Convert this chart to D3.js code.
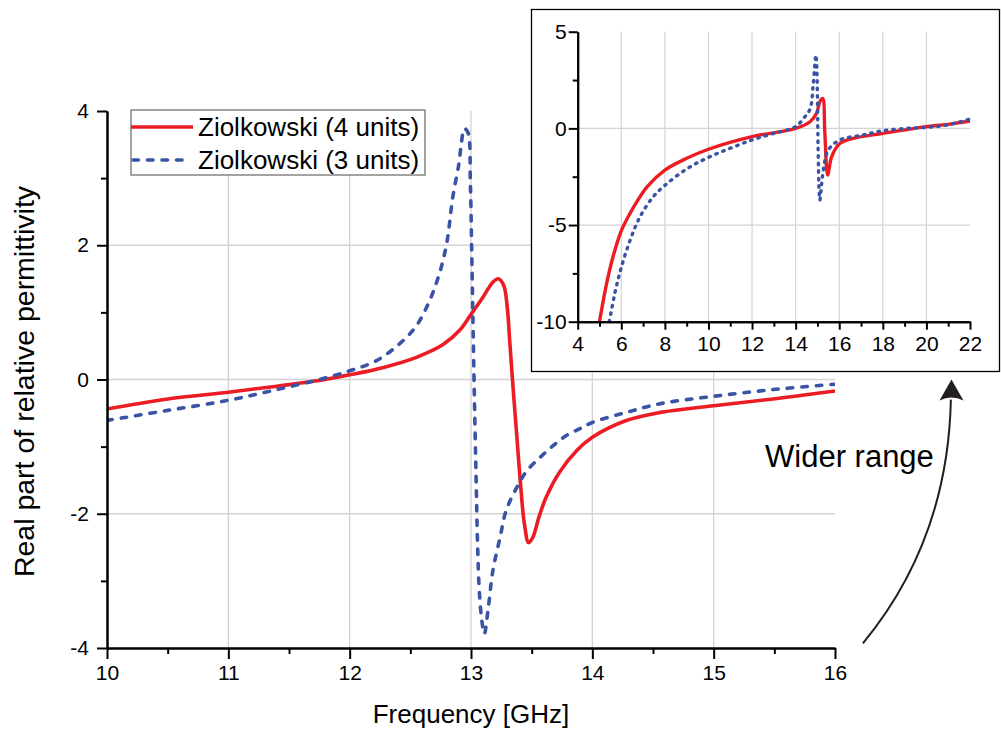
<!DOCTYPE html>
<html>
<head>
<meta charset="utf-8">
<script src="https://cdn.jsdelivr.net/npm/d3@7"></script>
<style>
  html, body { margin: 0; padding: 0; background: #fff; }
  svg { display: block; font-family: "Liberation Sans", Arial, sans-serif; }
</style>
</head>
<body>
<svg id="chart" width="1001" height="733"></svg>
<script>
// ---------------- data ----------------
const seriesNames = ["Ziolkowski (4 units)", "Ziolkowski (3 units)"];

// main plot (10–16 GHz)
const mainRedX = [10.0, 10.5, 11.0, 11.4, 11.73, 12.0, 12.28, 12.55, 12.77, 12.91, 13.0, 13.1, 13.18, 13.225, 13.27, 13.3, 13.32, 13.35, 13.38, 13.41, 13.44, 13.475, 13.51, 13.56, 13.62, 13.73, 13.87, 14.0, 14.28, 14.56, 15.0, 15.49, 16.0];
const mainRedY = [-0.44, -0.29, -0.19, -0.10, -0.02, 0.07, 0.18, 0.33, 0.52, 0.74, 0.97, 1.23, 1.45, 1.50, 1.40, 1.05, 0.55, -0.2, -0.9, -1.6, -2.15, -2.43, -2.35, -2.05, -1.75, -1.38, -1.06, -0.86, -0.61, -0.49, -0.39, -0.29, -0.17];

const mainBlueX = [10.0, 10.5, 11.0, 11.4, 11.73, 12.0, 12.22, 12.41, 12.55, 12.66, 12.74, 12.80, 12.85, 12.90, 12.92, 12.945, 12.975, 12.995, 13.005, 13.015, 13.025, 13.04, 13.055, 13.07, 13.09, 13.11, 13.14, 13.18, 13.24, 13.29, 13.38, 13.46, 13.57, 13.68, 13.79, 13.90, 14.0, 14.28, 14.56, 15.0, 15.49, 16.0];
const mainBlueY = [-0.61, -0.46, -0.31, -0.15, -0.01, 0.13, 0.28, 0.53, 0.80, 1.18, 1.58, 2.03, 2.72, 3.21, 3.51, 3.74, 3.68, 2.9, 2.0, 1.0, 0.0, -1.3, -2.5, -3.2, -3.6, -3.79, -3.44, -2.85, -2.35, -1.95, -1.6, -1.36, -1.16, -0.98, -0.83, -0.73, -0.64, -0.49, -0.36, -0.25, -0.15, -0.07];

// inset (wider range 4–22 GHz)
const insetRedX = [5.0, 5.33, 5.63, 6.0, 6.4, 6.71, 7.2, 8.0, 9.0, 10.0, 12.0, 14.0, 14.66, 14.96, 15.11, 15.24, 15.34, 15.47, 15.65, 16.03, 16.64, 18.02, 20.0, 21.08, 22.0];
const insetRedY = [-10, -8.0, -6.6, -5.3, -4.4, -3.8, -3.0, -2.16, -1.55, -1.08, -0.43, 0.0, 0.34, 0.78, 1.38, 1.55, -0.26, -2.41, -1.47, -0.78, -0.52, -0.26, 0.09, 0.22, 0.38];

const insetBlueX = [5.45, 5.71, 6.0, 6.4, 6.86, 7.47, 8.0, 9.0, 10.0, 11.0, 12.0, 13.0, 14.0, 14.35, 14.66, 14.81, 14.93, 14.97, 15.03, 15.08, 15.11, 15.27, 15.5, 16.03, 17.1, 18.0, 19.1, 20.0, 20.93, 22.0];
const insetBlueY = [-10, -8.5, -7.2, -5.8, -4.57, -3.53, -2.95, -2.1, -1.5, -1.03, -0.6, -0.26, 0.09, 0.5, 1.0, 2.33, 3.79, 3.2, -1.0, -3.3, -3.71, -2.16, -1.12, -0.6, -0.34, -0.12, 0.0, 0.05, 0.17, 0.48];

const mainXTicks = [10, 11, 12, 13, 14, 15, 16];
const mainYTicks = [-4, -2, 0, 2, 4];
const insetXTicks = [4, 6, 8, 10, 12, 14, 16, 18, 20, 22];
const insetYTicks = [-10, -5, 0, 5];

const xTitle = "Frequency [GHz]";
const yTitle = "Real part of relative permittivity";
const annotation = "Wider range";

// ---------------- styles ----------------
const RED = "#ec1c24";
const BLUE = "#3a53a4";
const GRID = "#d4d4d4";
const fmt = d => String(d);

const svg = d3.select("#chart");

// ---------------- main plot ----------------
const x = d3.scaleLinear().domain([10, 16]).range([107, 835]);
const y = d3.scaleLinear().domain([-4, 4]).range([648, 111]);

const gMain = svg.append("g");

// grid
gMain.append("g").selectAll("line").data([11, 12, 13, 14, 15]).join("line")
  .attr("x1", d => x(d)).attr("x2", d => x(d))
  .attr("y1", y(-4)).attr("y2", y(4))
  .attr("stroke", GRID).attr("stroke-width", 1.3);
gMain.append("g").selectAll("line").data([-2, 0, 2]).join("line")
  .attr("x1", x(10)).attr("x2", x(16))
  .attr("y1", d => y(d)).attr("y2", d => y(d))
  .attr("stroke", GRID).attr("stroke-width", 1.3);

svg.append("clipPath").attr("id", "clipMain")
  .append("rect").attr("x", x(10)).attr("y", y(4) - 5).attr("width", x(16) - x(10)).attr("height", y(-4) - y(4) + 5);

const lineMain = d3.line().x(d => x(d[0])).y(d => y(d[1])).curve(d3.curveCatmullRom.alpha(0.5));

gMain.append("path")
  .datum(d3.zip(mainRedX, mainRedY))
  .attr("d", lineMain).attr("fill", "none")
  .attr("stroke", RED).attr("stroke-width", 3.6)
  .attr("stroke-linejoin", "round")
  .attr("clip-path", "url(#clipMain)");

gMain.append("path")
  .datum(d3.zip(mainBlueX, mainBlueY))
  .attr("d", lineMain).attr("fill", "none")
  .attr("stroke", BLUE).attr("stroke-width", 3.6)
  .attr("stroke-dasharray", "5.5,9").attr("stroke-linecap", "round")
  .attr("clip-path", "url(#clipMain)");

// axes
function styleAxis(g) {
  g.selectAll(".domain").attr("stroke", "#000").attr("stroke-width", 2);
  g.selectAll(".tick line").attr("stroke", "#000").attr("stroke-width", 2);
  g.selectAll(".tick text").attr("fill", "#000").attr("font-family", "Liberation Sans, Arial, sans-serif");
}

const xMinor = d3.range(10.5, 16, 1);
gMain.append("g").attr("transform", `translate(0,${y(-4)})`)
  .call(d3.axisBottom(x).tickValues(xMinor).tickSize(6).tickSizeOuter(0).tickFormat(""))
  .call(styleAxis);
gMain.append("g").attr("transform", `translate(0,${y(-4)})`)
  .call(d3.axisBottom(x).tickValues(mainXTicks).tickSize(11).tickSizeOuter(0).tickPadding(6).tickFormat(fmt))
  .call(styleAxis)
  .call(g => g.selectAll(".tick text").attr("font-size", 21));

const yMinor = [-3, -1, 1, 3];
gMain.append("g").attr("transform", `translate(${x(10)},0)`)
  .call(d3.axisLeft(y).tickValues(yMinor).tickSize(6).tickSizeOuter(0).tickFormat(""))
  .call(styleAxis);
gMain.append("g").attr("transform", `translate(${x(10)},0)`)
  .call(d3.axisLeft(y).tickValues(mainYTicks).tickSize(10).tickSizeOuter(0).tickPadding(8).tickFormat(fmt))
  .call(styleAxis)
  .call(g => g.selectAll(".tick text").attr("font-size", 21));

// axis titles
svg.append("text").attr("x", (x(10) + x(16)) / 2).attr("y", 723)
  .attr("text-anchor", "middle").attr("font-size", 26).attr("fill", "#000").text(xTitle);
svg.append("text").attr("transform", `translate(34,${y(0) + 2}) rotate(-90)`)
  .attr("text-anchor", "middle").attr("font-size", 28.5).attr("fill", "#000").text(yTitle);

// legend
const leg = svg.append("g");
leg.append("rect").attr("x", 131).attr("y", 110).attr("width", 294).attr("height", 65)
  .attr("fill", "#fff").attr("stroke", "#666").attr("stroke-width", 1.2);
const legItems = [
  { name: seriesNames[0], color: RED, dash: null, cy: 127 },
  { name: seriesNames[1], color: BLUE, dash: "5.5,9", cy: 160 }
];
legItems.forEach(it => {
  const l = leg.append("line").attr("x1", it.dash ? 133 : 131).attr("x2", it.dash ? 188 : 193)
    .attr("y1", it.cy).attr("y2", it.cy).attr("stroke", it.color).attr("stroke-width", 3.6);
  if (it.dash) l.attr("stroke-dasharray", it.dash).attr("stroke-linecap", "round");
  leg.append("text").attr("x", 198).attr("y", it.cy + 9).attr("font-size", 26).attr("fill", "#000").text(it.name);
});

// annotation arrow (anchored to main scales)
const aStart = [x(16.23), y(-3.93)];
const aCtrl = [x(16.93), y(-2.4)];
const aEnd = [x(16.955), y(-0.3)];
const aTip = [x(16.96), y(0.0)];
svg.append("path")
  .attr("d", `M${aStart[0]},${aStart[1]} Q${aCtrl[0]},${aCtrl[1]} ${aEnd[0]},${aEnd[1]}`)
  .attr("fill", "none").attr("stroke", "#231f20").attr("stroke-width", 2);
svg.append("path")
  .attr("d", `M${aTip[0]},${aTip[1]} L${aTip[0] + 12},${aTip[1] + 21} Q${aTip[0]},${aTip[1] + 15} ${aTip[0] - 12},${aTip[1] + 21} Z`)
  .attr("fill", "#231f20");
svg.append("text").attr("x", 765).attr("y", 467).attr("font-size", 31).attr("fill", "#000").text(annotation);

// ---------------- inset ----------------
const gIn = svg.append("g");
gIn.append("rect").attr("x", 531.5).attr("y", 9.5).attr("width", 468).attr("height", 362)
  .attr("fill", "#fff").attr("stroke", "#000").attr("stroke-width", 1.3);

const xi = d3.scaleLinear().domain([4, 22]).range([577.7, 970]);
const yi = d3.scaleLinear().domain([-10, 5]).range([321.7, 31.7]);

gIn.append("g").selectAll("line").data([6, 8, 10, 12, 14, 16, 18, 20]).join("line")
  .attr("x1", d => xi(d)).attr("x2", d => xi(d))
  .attr("y1", yi(-10)).attr("y2", yi(5))
  .attr("stroke", GRID).attr("stroke-width", 1.2);
gIn.append("g").selectAll("line").data([-5, 0]).join("line")
  .attr("x1", xi(4)).attr("x2", xi(22))
  .attr("y1", d => yi(d)).attr("y2", d => yi(d))
  .attr("stroke", GRID).attr("stroke-width", 1.2);

svg.append("clipPath").attr("id", "clipIn")
  .append("rect").attr("x", xi(4)).attr("y", yi(5)).attr("width", xi(22) - xi(4) + 4).attr("height", yi(-10) - yi(5));

const lineIn = d3.line().x(d => xi(d[0])).y(d => yi(d[1])).curve(d3.curveCatmullRom.alpha(0.5));

gIn.append("path")
  .datum(d3.zip(insetRedX, insetRedY))
  .attr("d", lineIn).attr("fill", "none")
  .attr("stroke", RED).attr("stroke-width", 3.4).attr("stroke-linejoin", "round")
  .attr("clip-path", "url(#clipIn)");
gIn.append("path")
  .datum(d3.zip(insetBlueX, insetBlueY))
  .attr("d", lineIn).attr("fill", "none")
  .attr("stroke", BLUE).attr("stroke-width", 3.4)
  .attr("stroke-dasharray", "1.5,6").attr("stroke-linecap", "round")
  .attr("clip-path", "url(#clipIn)");

gIn.append("g").attr("transform", `translate(0,${yi(-10)})`)
  .call(d3.axisBottom(xi).tickValues(d3.range(5, 22, 2)).tickSize(5).tickSizeOuter(0).tickFormat(""))
  .call(styleAxis);
gIn.append("g").attr("transform", `translate(0,${yi(-10)})`)
  .call(d3.axisBottom(xi).tickValues(insetXTicks).tickSize(8).tickSizeOuter(0).tickPadding(6).tickFormat(fmt))
  .call(styleAxis)
  .call(g => g.selectAll(".tick text").attr("font-size", 21));
gIn.append("g").attr("transform", `translate(${xi(4)},0)`)
  .call(d3.axisLeft(yi).tickValues([-7.5, -2.5, 2.5]).tickSize(5).tickSizeOuter(0).tickFormat(""))
  .call(styleAxis);
gIn.append("g").attr("transform", `translate(${xi(4)},0)`)
  .call(d3.axisLeft(yi).tickValues(insetYTicks).tickSize(9).tickSizeOuter(0).tickPadding(2).tickFormat(fmt))
  .call(styleAxis)
  .call(g => g.selectAll(".tick text").attr("font-size", 21));
</script>
</body>
</html>
